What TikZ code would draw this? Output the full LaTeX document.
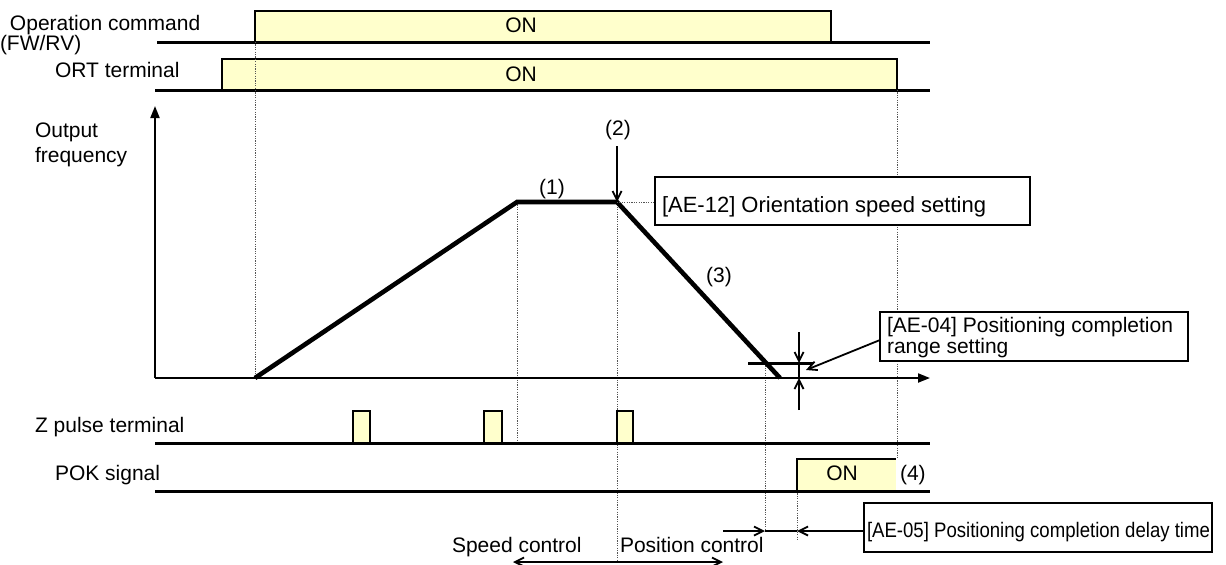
\documentclass[tikz,border=0pt]{standalone}
\usepackage{fontspec}
\setmainfont{Liberation Sans}
\usetikzlibrary{arrows.meta}
\definecolor{onfill}{HTML}{FFFFCC}
\definecolor{guide}{HTML}{555555}
\begin{document}
\begin{tikzpicture}[x=0.5pt,y=-0.5pt,
  every node/.style={inner sep=0pt,outer sep=0pt,font=\fontsize{10.5}{12.6}\selectfont},
  lbl/.style={anchor=base west},
  ctr/.style={anchor=base},
  sigline/.style={line width=1.5pt},
  onbox/.style={line width=1.1pt},
  curve/.style={line width=2.3pt,line join=miter},
  axis/.style={line width=1pt,-{Triangle[length=6pt,width=4.5pt]}},
  guideline/.style={guide,line width=0.5pt,dash pattern=on 0.6pt off 0.6pt},
  callout/.style={draw,line width=1.3pt,fill=white},
  barb/.style={line width=0.9pt,-{Straight Barb[length=4.5pt,width=4.5pt]}},
]
\useasboundingbox (0,0) rectangle (1226,564);

% ---------- Operation command ----------
\node[lbl] (opl1) at (10,30) {Operation command};
\node[lbl] (opl2) at (0,50) {(FW/RV)};
\coordinate (op0) at (157,42);
\coordinate (opA) at (255,42);
\coordinate (opB) at (831,42);
\coordinate (op1) at (930,42);
\fill[onfill] (opA) rectangle (831,11);
\draw[onbox] (opA) -- (255,11) -- (831,11) -- (opB);
\draw[sigline] (op0) -- (op1);
\node[ctr] (opon) at (521,32) {ON};

% ---------- ORT terminal ----------
\node[lbl] (ortl) at (55,77) {ORT terminal};
\coordinate (ort0) at (155,90);
\coordinate (ortA) at (222,90);
\coordinate (ortB) at (897,90);
\coordinate (ort1) at (930,90);
\fill[onfill] (ortA) rectangle (897,59);
\draw[onbox] (ortA) -- (222,59) -- (897,59) -- (ortB);
\draw[sigline] (ort0) -- (ort1);
\node[ctr] (orton) at (521,81) {ON};

% ---------- guide lines ----------
\draw[guideline] (opA) -- (255,378);
\coordinate (f1) at (517,202);
\coordinate (f2) at (617,202);
\coordinate (f3) at (780,378);
\coordinate (rx) at (765,363);
\draw[guideline] (f1) -- (517,443);
\draw[guideline] (f2) -- (617,564);
\draw[guideline] (ortB) -- (897,459);
\draw[guideline] (rx) -- (765,532);
\draw[guideline] (797,491) -- (797,540);

% ---------- Output frequency ----------
\node[lbl] (ofl1) at (35,137) {Output};
\node[lbl] (ofl2) at (35,162) {frequency};
\coordinate (org) at (155,378);
\draw[axis] (org) -- (155,106);
\draw[axis] (org) -- (930,378);
\coordinate (f0) at (255,378);
\draw[curve] (f0) -- (f1) -- (f2) -- (f3);
\node[ctr] (n1) at (552,194) {(1)};
\node[ctr] (n2) at (618,135) {(2)};
\coordinate (n2a) at (617,146);
\draw[barb] (n2a) -- (f2);
\node[ctr] (n3) at (719,282) {(3)};

% AE-12 callout
\coordinate (ae12l) at (655,202);
\draw[guideline] (f2) -- (ae12l);
\draw[callout] (655,177) rectangle (1030,225);
\node[lbl,font=\fontsize{11}{13}\selectfont] (ae12) at (662,212) {[AE-12] Orientation speed setting};

% positioning completion range
\coordinate (rl) at (748,363);
\coordinate (rr) at (813,363);
\draw[line width=1.5pt] (rl) -- (rr);
\coordinate (rv0) at (799,332);
\coordinate (rv1) at (799,410);
\draw[barb] (rv0) -- (799,363);
\draw[barb] (rv1) -- (799,378);
\draw[line width=0.9pt] (799,363) -- (799,378);
\draw[callout] (880,312) rectangle (1188,361);
\node[lbl] (ae04a) at (887,332) {[AE-04] Positioning completion};
\node[lbl] (ae04b) at (887,353) {range setting};
\coordinate (ae04p) at (880,340);
\coordinate (ae04t) at (806,370);
\draw[barb] (ae04p) -- (ae04t);

% ---------- Z pulse terminal ----------
\node[lbl] (zl) at (35,432) {Z pulse terminal};
\coordinate (z0) at (155,443);
\coordinate (z1) at (930,443);
\foreach \xa/\xb in {353/370,484/502,617/633}{
  \fill[onfill] (\xa,443) rectangle (\xb,411);
  \draw[onbox] (\xa,443) -- (\xa,411) -- (\xb,411) -- (\xb,443);
}
\draw[sigline] (z0) -- (z1);

% ---------- POK signal ----------
\node[lbl] (pl) at (55,480) {POK signal};
\coordinate (p0) at (155,491);
\coordinate (p1) at (930,491);
\fill[onfill] (797,491) rectangle (896,459);
\draw[onbox] (797,491) -- (797,459) -- (896,459);
\draw[sigline] (p0) -- (p1);
\node[ctr] (pon) at (842,480) {ON};
\node[lbl] (n4) at (900,480) {(4)};

% ---------- delay time ----------
\draw[callout] (864,503) rectangle (1212,552);
\node[lbl] (ae05) at (867,537) {\scalebox{0.885}[1]{[AE-05] Positioning completion delay time}};
\coordinate (d0) at (723,531);
\coordinate (d1) at (765,531);
\coordinate (d2) at (797,531);
\coordinate (d3) at (864,531);
\draw[barb] (d0) -- (d1);
\draw[line width=1.1pt] (d1) -- (d2);
\draw[barb] (d3) -- (d2);

% ---------- control regions ----------
\node[lbl] (spc) at (452,552) {Speed control};
\node[lbl] (poc) at (620,552) {Position control};
\coordinate (cm) at (617,562);
\draw[barb] (cm) -- (513,562);
\draw[barb] (cm) -- (723,562);
\end{tikzpicture}
\end{document}
